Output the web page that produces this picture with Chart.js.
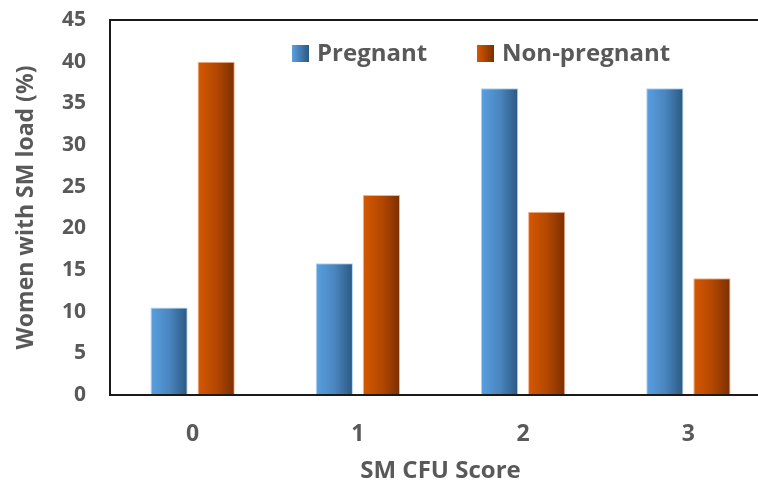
<!DOCTYPE html>
<html>
<head>
<meta charset="utf-8">
<script src="https://cdn.jsdelivr.net/npm/chart.js@4.4.1/dist/chart.umd.min.js"></script>
<style>
  html, body { margin: 0; padding: 0; background: #fff; overflow: hidden; }
  #wrap { position: relative; width: 772px; height: 490px; }
  #legend { position: absolute; top: 36px; left: 292px; font: bold 24px "Open Sans", sans-serif; color: #595959; white-space: nowrap; }
  #legend span.item { position: absolute; top: 0; line-height: 32px; }
  #legend i { display: inline-block; width: 17px; height: 17px; vertical-align: -1px; margin-right: 8px; }
</style>
</head>
<body>
<div id="wrap">
  <canvas id="chart" width="772" height="490"></canvas>
  <div id="legend"></div>
</div>
<script>
const categories = ["0", "1", "2", "3"];
const seriesNames = ["Pregnant", "Non-pregnant"];
const pregnant = [10.5, 15.8, 36.8, 36.8];
const nonPregnant = [40, 24, 22, 14];
const yTicks = [0, 5, 10, 15, 20, 25, 30, 35, 40, 45];

const textColor = "#595959";
const fontFamily = "'Open Sans'";
const catPct = 0.57;
const barPct = 0.79;
const gradStops = [
  ["#5a9fe0", "#4a86c0", "#2b5882"],
  ["#d65800", "#b44800", "#7a2f00"]
];

// horizontal gradient across each bar
function barFill(ctx) {
  const chart = ctx.chart;
  const xs = chart.scales.x;
  if (!chart.chartArea || !xs) return gradStops[ctx.datasetIndex][0];
  const cw = xs.width / categories.length;
  const slot = cw * catPct / 2;
  const c = xs.getPixelForValue(ctx.dataIndex) + (ctx.datasetIndex === 0 ? -slot / 2 : slot / 2);
  const half = slot * barPct / 2;
  const g = chart.ctx.createLinearGradient(c - half, 0, c + half, 0);
  const s = gradStops[ctx.datasetIndex];
  g.addColorStop(0, s[0]);
  g.addColorStop(0.5, s[1]);
  g.addColorStop(1, s[2]);
  return g;
}

const frame = {
  id: "frame",
  afterDraw(chart) {
    const a = chart.chartArea;
    const c = chart.ctx;
    c.save();
    c.strokeStyle = "#1a1a1a";
    c.lineWidth = 2;
    c.strokeRect(a.left, a.top, a.right - a.left, a.bottom - a.top);
    c.restore();
  }
};

const ctx = document.getElementById("chart").getContext("2d");
new Chart(ctx, {
  type: "bar",
  data: {
    labels: categories,
    datasets: [
      { label: seriesNames[0], data: pregnant, backgroundColor: barFill, borderColor: "rgba(170,205,240,0.9)", borderWidth: 1, categoryPercentage: catPct, barPercentage: barPct },
      { label: seriesNames[1], data: nonPregnant, backgroundColor: barFill, borderColor: "rgba(240,170,130,0.9)", borderWidth: 1, categoryPercentage: catPct, barPercentage: barPct }
    ]
  },
  options: {
    responsive: false,
    animation: false,
    layout: { padding: { top: 20, right: 1, left: 0, bottom: 0 } },
    plugins: {
      legend: { display: false },
      tooltip: { enabled: false }
    },
    scales: {
      x: {
        grid: { display: false, drawTicks: false },
        border: { display: true, color: "#1a1a1a", width: 2 },
        ticks: { color: textColor, font: { family: fontFamily, size: 23, weight: "bold" }, padding: 26 },
        title: { display: true, text: "SM CFU Score", color: textColor, font: { family: fontFamily, size: 24, weight: "bold" }, padding: { top: 0, bottom: 4 } },
        afterFit(scale) { scale.height = 95; scale.paddingLeft = 0; scale.paddingRight = 0; }
      },
      y: {
        min: 0,
        max: 45,
        afterBuildTicks(scale) { scale.ticks = yTicks.map(v => ({ value: v })); },
        grid: { display: false, drawTicks: false },
        border: { display: true, color: "#1a1a1a", width: 2 },
        ticks: { color: textColor, font: { family: fontFamily, size: 21, weight: "bold" }, padding: 24 },
        title: { display: true, text: "Women with SM load (%)", color: textColor, font: { family: fontFamily, size: 23, weight: "bold" }, padding: { top: 13, bottom: 0 } },
        afterFit(scale) { scale.width = 110; scale.paddingTop = 0; scale.paddingBottom = 0; }
      }
    }
  },
  plugins: [frame]
});

// legend drawn as html over the plot
const legend = document.getElementById("legend");
const lx = [0, 185];
seriesNames.forEach((name, i) => {
  const s = gradStops[i];
  const span = document.createElement("span");
  span.className = "item";
  span.style.left = lx[i] + "px";
  span.innerHTML = `<i style="background:linear-gradient(to right, ${s[0]}, ${s[2]})"></i>${name}`;
  legend.appendChild(span);
});
</script>
</body>
</html>
